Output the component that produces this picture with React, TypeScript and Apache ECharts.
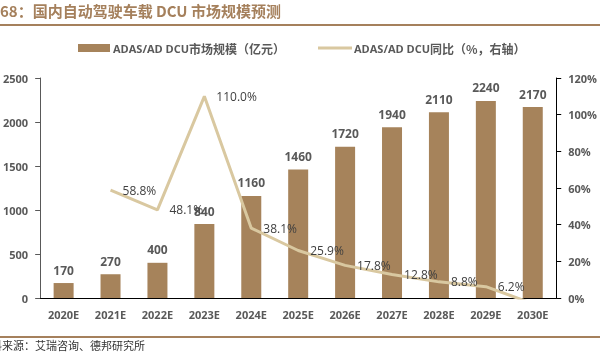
import React, { useEffect, useRef } from "react";
import * as echarts from "echarts";

const categories = ["2020E", "2021E", "2022E", "2023E", "2024E", "2025E", "2026E", "2027E", "2028E", "2029E", "2030E"];
const marketSize = [170, 270, 400, 840, 1160, 1460, 1720, 1940, 2110, 2240, 2170];
const growth: (number | null)[] = [null, 58.8, 48.1, 110.0, 38.1, 25.9, 17.8, 12.8, 8.8, 6.2, -3.1];
const leftTicks = { min: 0, max: 2500, interval: 500 };
const rightTicks = { min: 0, max: 120, interval: 20 };
const barName = "ADAS/AD DCU市场规模（亿元）";
const lineName = "ADAS/AD DCU同比（%，右轴）";
const titleText = "图68：国内自动驾驶车载 DCU 市场规模预测";
const sourceText = "资料来源：艾瑞咨询、德邦研究所";

const FONT = '"Open Sans", "Noto Sans CJK SC", sans-serif';
const GREY = "#595959";
const BAR = "#a6835b";
const LINE = "#d9c8a0";
const BROWN = "#a5805c";

const legendRich = {
  a: { color: GREY, fontSize: 11, fontWeight: "bold", fontFamily: FONT },
  b: { color: GREY, fontSize: 12, fontWeight: "bold", fontFamily: '"Noto Sans CJK SC", sans-serif' },
};
const legendFormatter = (name: string) => {
  const i = name.indexOf("DCU") + 3;
  return `{a|${name.slice(0, i)}}{b|${name.slice(i)}}`;
};

export default function App() {
  const ref = useRef<HTMLDivElement>(null);
  useEffect(() => {
    if (!ref.current) return;
    const chart = echarts.init(ref.current, null, { renderer: "svg" });
    chart.setOption({
      animation: false,
      textStyle: { fontFamily: FONT },
      grid: { left: 39, right: 42, top: 78, bottom: 54, containLabel: false },
      legend: [
        {
          data: [{ name: barName, icon: "rect" }],
          left: 78,
          top: 42,
          padding: 0,
          itemGap: 0,
          itemWidth: 32,
          itemHeight: 8,
          formatter: legendFormatter,
          textStyle: { color: GREY, fontSize: 11, fontWeight: "bold", fontFamily: FONT, padding: [0, 0, 0, -2], rich: legendRich },
        },
        {
          data: [{ name: lineName, icon: "rect", itemStyle: { color: LINE } }],
          left: 318,
          top: 42,
          padding: 0,
          itemWidth: 34,
          itemHeight: 3,
          formatter: legendFormatter,
          textStyle: { color: GREY, fontSize: 11, fontWeight: "bold", fontFamily: FONT, padding: [0, 0, 0, -3], rich: legendRich },
        },
      ],
      xAxis: {
        type: "category",
        data: categories,
        axisLine: { lineStyle: { color: "#000", width: 1 } },
        axisTick: { show: false },
        axisLabel: { color: GREY, fontSize: 11, fontWeight: "bold", margin: 11, interval: 0 },
      },
      yAxis: [
        {
          type: "value",
          ...leftTicks,
          splitLine: { show: false },
          axisLine: { show: true, lineStyle: { color: GREY } },
          axisTick: { show: true, length: 5, lineStyle: { color: GREY } },
          axisLabel: { color: GREY, fontSize: 11, fontWeight: "bold", margin: 12, formatter: (v: number) => String(v) },
        },
        {
          type: "value",
          ...rightTicks,
          position: "right",
          splitLine: { show: false },
          axisLine: { show: true, lineStyle: { color: "#000" } },
          axisTick: { show: true, length: 5, lineStyle: { color: "#000" } },
          axisLabel: { color: GREY, fontSize: 11, fontWeight: "bold", margin: 12, formatter: "{value}%" },
        },
      ],
      series: [
        {
          name: barName,
          type: "bar",
          data: marketSize,
          barWidth: 20,
          itemStyle: { color: BAR },
          label: { show: true, position: "top", distance: 7, color: GREY, fontSize: 12, fontWeight: "bold" },
        },
        {
          name: lineName,
          type: "line",
          yAxisIndex: 1,
          data: growth.map((v) => (v !== null && v < 0 ? { value: v, label: { show: false } } : v)),
          symbol: "circle",
          symbolSize: 0.01,
          showSymbol: true,
          connectNulls: false,
          lineStyle: { color: LINE, width: 3 },
          itemStyle: { color: LINE },
          label: {
            show: true,
            position: "right",
            distance: 12,
            color: "#404040",
            fontSize: 12,
            formatter: (p: any) => Number(p.value).toFixed(1) + "%",
          },
        },
      ],
      graphic: [
        {
          type: "text",
          left: -15,
          top: 3,
          style: { text: titleText, fill: BROWN, fontSize: 15, fontWeight: "bold", fontFamily: '"Noto Sans CJK SC", sans-serif' },
        },
        { type: "line", shape: { x1: 0, y1: 25, x2: 600, y2: 25 }, style: { stroke: BROWN, lineWidth: 2 } },
        { type: "line", shape: { x1: 0, y1: 337, x2: 600, y2: 337 }, style: { stroke: BROWN, lineWidth: 2 } },
        {
          type: "text",
          left: -20,
          top: 339,
          style: { text: sourceText, fill: "#333", fontSize: 11, fontFamily: '"Noto Sans CJK SC", sans-serif' },
        },
      ],
    });
    return () => chart.dispose();
  }, []);
  return <div ref={ref} style={{ position: "fixed", left: 0, top: 0, width: 600, height: 352 }} />;
}
